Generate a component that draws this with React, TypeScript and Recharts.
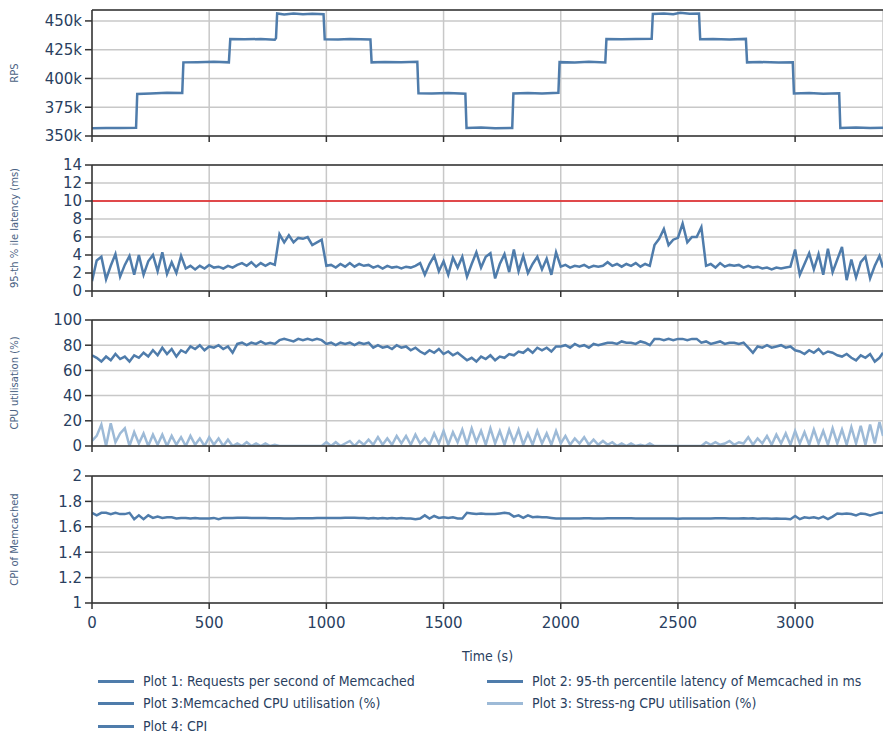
import React from "react";
import { LineChart, Line, XAxis, YAxis, CartesianGrid, ReferenceLine } from "recharts";

// samples are 20 s apart, last one clamped to the end of the run
const STEP = 20;
const END_TIME = 3375;
const timeTicks = [0, 500, 1000, 1500, 2000, 2500, 3000];

// Plot 1: RPS (step changes every ~200 s)
const rpsTime = [
  0, 60, 120, 188, 193, 250, 320, 385, 390, 450, 520, 584, 590, 650, 720, 780, 785, 790, 820, 860, 900, 940, 988,
  993, 1050, 1100, 1188, 1193, 1250, 1320, 1388, 1393, 1450, 1520, 1593, 1598, 1660, 1720, 1793, 1798, 1860, 1920,
  1990, 1995, 2060, 2120, 2190, 2195, 2260, 2320, 2388, 2393, 2440, 2480, 2510, 2550, 2590, 2595, 2650, 2720, 2790,
  2795, 2850, 2930, 2990, 2995, 3060, 3120, 3188, 3193, 3260, 3320, 3375,
];
const rpsValue = [
  356.8, 357, 356.9, 357.2, 386.5, 387, 387.6, 387.3, 414, 414.2, 414.5, 414, 434.2, 434, 434.3, 433.6, 435, 456.5,
  455.5, 456.4, 455.8, 456.3, 455.9, 434, 433.8, 434.2, 433.9, 414, 414.4, 414, 414.5, 387.2, 387, 387.3, 386.8, 357,
  357.3, 356.8, 357, 387, 387.4, 386.9, 387.5, 414.2, 413.8, 414.6, 413.9, 434.3, 434, 434.2, 434.5, 456, 456.5,
  455.8, 457, 456.2, 456.5, 434, 434.2, 433.8, 434.4, 414, 414.3, 413.8, 414.1, 387, 387.3, 386.8, 387.1, 357, 357.3,
  356.9, 357.2,
];

// Plot 2: 95th percentile latency (ms)
const latencyMs = [
  1.1, 3.4, 3.8, 1.3, 2.8, 4.1, 1.6, 2.9, 3.9, 1.8,
  4.0, 1.8, 3.3, 4.0, 2.2, 4.3, 1.9, 3.2, 2.0, 3.9,
  2.5, 2.8, 2.4, 2.8, 2.5, 2.9, 2.6, 2.7, 2.5, 2.8,
  2.6, 2.9, 3.1, 2.8, 3.2, 2.7, 3.1, 2.8, 3.1, 2.9,
  6.3, 5.4, 6.2, 5.4, 5.9, 5.8, 6.0, 5.1, 5.4, 5.7,
  2.8, 2.9, 2.6, 3.0, 2.7, 3.1, 2.7, 3.0, 2.8, 2.9,
  2.6, 2.8, 2.5, 2.8, 2.6, 2.7, 2.5, 2.7, 2.6, 2.8,
  3.1, 1.8, 3.0, 3.9, 2.2, 3.3, 1.8, 3.7, 2.6, 3.8,
  1.6, 3.0, 4.3, 2.6, 3.8, 4.2, 1.4, 3.0, 4.1, 2.1,
  4.6, 2.2, 3.9, 2.0, 3.0, 3.8, 2.4, 3.6, 1.8, 4.3,
  2.7, 2.9, 2.6, 2.8, 2.7, 2.9, 2.6, 2.8, 2.7, 2.8,
  3.2, 2.8, 3.0, 2.7, 3.0, 2.8, 3.1, 2.7, 3.0, 2.8,
  5.1, 5.8, 6.9, 5.1, 5.7, 5.9, 7.5, 5.4, 6.0, 6.0,
  7.1, 2.8, 3.0, 2.6, 3.1, 2.7, 2.9, 2.8, 2.9, 2.6,
  2.8, 2.6, 2.7, 2.5, 2.6, 2.4, 2.6, 2.5, 2.6, 2.7,
  4.6, 1.8, 3.0, 4.2, 2.4, 4.1, 1.8, 4.7, 2.1, 3.5,
  4.9, 1.2, 3.5, 1.5, 3.2, 3.8, 1.4, 2.8, 3.9, 2.6,
];
const latencyLimit = 10;

// Plot 3: CPU utilisation (%)
const memcachedCpu = [
  72, 70, 67, 71, 68, 73, 69, 71, 67, 72,
  70, 74, 71, 76, 72, 78, 73, 77, 71, 76,
  74, 79, 77, 80, 76, 79, 78, 80, 77, 79,
  74, 81, 82, 80, 82, 81, 83, 81, 82, 81,
  84, 85, 84, 83, 85, 84, 85, 84, 85, 84,
  81, 82, 80, 82, 81, 82, 80, 82, 81, 82,
  78, 80, 78, 79, 77, 80, 78, 79, 76, 78,
  75, 73, 76, 74, 77, 73, 75, 72, 74, 71,
  68, 70, 67, 71, 69, 72, 68, 71, 70, 73,
  72, 75, 74, 77, 74, 78, 76, 78, 75, 79,
  79, 80, 78, 81, 79, 80, 78, 81, 80, 81,
  82, 82, 81, 83, 82, 82, 81, 83, 82, 80,
  85, 85, 84, 85, 84, 85, 85, 84, 85, 85,
  82, 83, 81, 82, 83, 81, 82, 82, 81, 82,
  78, 74, 79, 78, 80, 78, 79, 80, 78, 79,
  76, 75, 73, 76, 74, 77, 73, 75, 74, 72,
  71, 73, 70, 68, 72, 70, 73, 67, 70, 74,
];
const stressCpu = [
  4, 8, 17, 0, 18, 3, 10, 14, 0, 11,
  2, 10, 0, 9, 1, 9, 0, 8, 1, 7,
  0, 8, 1, 6, 0, 7, 1, 6, 0, 5,
  0, 2, 0, 3, 0, 2, 0, 2, 0, 1,
  0, 0, 0, 0, 0, 0, 0, 0, 0, 0,
  3, 0, 3, 0, 2, 4, 0, 4, 1, 5,
  1, 7, 1, 6, 1, 8, 2, 8, 1, 9,
  2, 6, 1, 10, 2, 12, 1, 11, 3, 13,
  1, 14, 3, 12, 1, 14, 2, 12, 1, 13,
  3, 13, 1, 10, 1, 12, 2, 10, 1, 12,
  2, 8, 1, 6, 2, 7, 1, 5, 1, 4,
  1, 3, 0, 2, 0, 2, 0, 1, 0, 2,
  0, 0, 0, 0, 0, 0, 0, 0, 0, 0,
  0, 3, 1, 3, 1, 2, 4, 1, 3, 2,
  7, 1, 6, 2, 8, 1, 9, 2, 10, 1,
  12, 2, 11, 1, 13, 2, 12, 1, 14, 2,
  13, 1, 15, 2, 16, 1, 17, 2, 19, 8,
];

// Plot 4: CPI of Memcached
const cpi = [
  1.71, 1.69, 1.71, 1.71, 1.7, 1.71, 1.7, 1.7, 1.71, 1.66,
  1.69, 1.66, 1.69, 1.67, 1.68, 1.67, 1.675, 1.675, 1.665, 1.67,
  1.67, 1.665, 1.67, 1.665, 1.665, 1.665, 1.67, 1.66, 1.67, 1.67,
  1.67, 1.672, 1.672, 1.671, 1.67, 1.67, 1.67, 1.669, 1.668, 1.668,
  1.667, 1.666, 1.666, 1.666, 1.667, 1.667, 1.668, 1.668, 1.669, 1.669,
  1.67, 1.67, 1.67, 1.67, 1.671, 1.671, 1.671, 1.67, 1.67, 1.665,
  1.67, 1.665, 1.67, 1.665, 1.67, 1.665, 1.67, 1.665, 1.665, 1.66,
  1.665, 1.69, 1.665, 1.685, 1.67, 1.675, 1.67, 1.675, 1.665, 1.665,
  1.71, 1.705, 1.7, 1.705, 1.7, 1.7, 1.7, 1.705, 1.71, 1.705,
  1.68, 1.69, 1.67, 1.69, 1.675, 1.68, 1.675, 1.675, 1.67, 1.665,
  1.665, 1.665, 1.665, 1.665, 1.666, 1.667, 1.667, 1.666, 1.665, 1.666,
  1.667, 1.668, 1.668, 1.668, 1.667, 1.667, 1.666, 1.665, 1.665, 1.665,
  1.665, 1.666, 1.666, 1.665, 1.665, 1.664, 1.665, 1.666, 1.666, 1.666,
  1.666, 1.666, 1.666, 1.667, 1.667, 1.667, 1.666, 1.666, 1.665, 1.667,
  1.665, 1.667, 1.664, 1.665, 1.666, 1.663, 1.665, 1.664, 1.663, 1.66,
  1.685, 1.66, 1.675, 1.67, 1.675, 1.665, 1.68, 1.66, 1.68, 1.705,
  1.7, 1.705, 1.7, 1.69, 1.705, 1.7, 1.69, 1.7, 1.71, 1.71,
];

const sampleTimes = latencyMs.map((_, i) => Math.min(i * STEP, END_TIME));

const rpsData = rpsTime.map((t, i) => ({ t, v: rpsValue[i] * 1000 }));
const latencyData = sampleTimes.map((t, i) => ({ t, v: latencyMs[i] }));
const cpuData = sampleTimes.map((t, i) => ({ t, mem: memcachedCpu[i], stress: stressCpu[i] }));
const cpiData = sampleTimes.map((t, i) => ({ t, v: cpi[i] }));

const DARK = "#4f7cab";
const LIGHT = "#9dbad7";
const AXIS = "#333";
const TICK = { fill: "#2a3f5f", fontSize: 15, fontFamily: "DejaVu Sans" };

const axisTitle = (text: string) => ({
  content: (props: any) => {
    const vb = props.viewBox || {};
    const cy = (vb.y ?? 0) + (vb.height ?? 0) / 2;
    return (
      <text
        x={14}
        y={cy}
        transform={`rotate(-90 14 ${cy})`}
        textAnchor="middle"
        dominantBaseline="central"
        fontSize={10}
        fontFamily="DejaVu Sans"
        fill="#4a6283"
      >
        {text}
      </text>
    );
  },
});

interface PanelProps {
  top: number;
  plotHeight: number;
  data: any[];
  domain: [number, number];
  ticks: number[];
  fmt: (v: number) => string;
  title: string;
  last?: boolean;
  children: React.ReactNode;
}

function Panel({ top, plotHeight, data, domain, ticks, fmt, title, last, children }: PanelProps) {
  const xh = last ? 64 : 12;
  return (
    <div style={{ position: "absolute", left: 0, top: top - 10 }}>
      <LineChart width={883} height={10 + plotHeight + xh} data={data} margin={{ top: 10, right: 0, bottom: 0, left: 0 }}>
        <CartesianGrid stroke="#c8c8c8" strokeWidth={1.5} />
        <XAxis
          dataKey="t"
          type="number"
          domain={[0, END_TIME]}
          ticks={timeTicks}
          interval={0}
          allowDataOverflow
          height={xh}
          tickSize={6}
          tickMargin={8}
          stroke={AXIS}
          strokeWidth={1.5}
          tick={TICK}
          tickFormatter={last ? (v: number) => String(v) : () => ""}
          label={
            last
              ? {
                  value: "Time (s)",
                  position: "insideBottom",
                  offset: 6,
                  fill: "#2a3f5f",
                  fontSize: 14,
                  fontFamily: "DejaVu Sans Condensed",
                }
              : undefined
          }
        />
        <YAxis
          type="number"
          domain={domain}
          ticks={ticks}
          interval={0}
          allowDataOverflow
          width={92}
          tickSize={7}
          tickMargin={3}
          stroke={AXIS}
          strokeWidth={1.5}
          tick={TICK}
          tickFormatter={fmt}
          label={axisTitle(title)}
        />
        <ReferenceLine y={domain[1]} stroke={AXIS} strokeWidth={1.5} />
        {children}
      </LineChart>
    </div>
  );
}

const legendItems = [
  { label: "Plot 1: Requests per second of Memcached", color: DARK, x: 98, y: 681 },
  { label: "Plot 2: 95-th percentile latency of Memcached in ms", color: DARK, x: 487, y: 681 },
  { label: "Plot 3:Memcached CPU utilisation (%)", color: DARK, x: 98, y: 703 },
  { label: "Plot 3: Stress-ng CPU utilisation (%)", color: LIGHT, x: 487, y: 703 },
  { label: "Plot 4: CPI", color: DARK, x: 98, y: 726 },
];

export default function App() {
  return (
    <div style={{ position: "absolute", left: 0, top: 0, width: 883, height: 735, background: "#fff", overflow: "hidden" }}>
      <Panel
        top={10}
        plotHeight={126}
        data={rpsData}
        domain={[350000, 459500]}
        ticks={[350000, 375000, 400000, 425000, 450000]}
        fmt={(v) => `${Math.round(v / 1000)}k`}
        title="RPS"
      >
        <Line type="linear" dataKey="v" stroke={DARK} strokeWidth={2.5} dot={false} isAnimationActive={false} />
      </Panel>
      <Panel
        top={165}
        plotHeight={126}
        data={latencyData}
        domain={[0, 14]}
        ticks={[0, 2, 4, 6, 8, 10, 12, 14]}
        fmt={(v) => String(v)}
        title="95-th % ile latency (ms)"
      >
        <ReferenceLine y={latencyLimit} stroke="#e31a1c" strokeWidth={1.5} />
        <Line type="linear" dataKey="v" stroke={DARK} strokeWidth={2.5} dot={false} isAnimationActive={false} />
      </Panel>
      <Panel
        top={320}
        plotHeight={126}
        data={cpuData}
        domain={[0, 100]}
        ticks={[0, 20, 40, 60, 80, 100]}
        fmt={(v) => String(v)}
        title="CPU utilisation (%)"
      >
        <Line type="linear" dataKey="mem" stroke={DARK} strokeWidth={2.5} dot={false} isAnimationActive={false} />
        <Line type="linear" dataKey="stress" stroke={LIGHT} strokeWidth={2.5} dot={false} isAnimationActive={false} />
      </Panel>
      <Panel
        top={476}
        plotHeight={127}
        data={cpiData}
        domain={[1, 2]}
        ticks={[1, 1.2, 1.4, 1.6, 1.8, 2]}
        fmt={(v) => String(Math.round(v * 10) / 10)}
        title="CPI of Memcached"
        last
      >
        <Line type="linear" dataKey="v" stroke={DARK} strokeWidth={2.5} dot={false} isAnimationActive={false} />
      </Panel>
      {legendItems.map((it) => (
        <div
          key={it.label}
          style={{
            position: "absolute",
            left: it.x,
            top: it.y - 9,
            height: 18,
            display: "flex",
            alignItems: "center",
            whiteSpace: "nowrap",
            fontFamily: "DejaVu Sans Condensed",
            fontSize: 14,
            color: "#2a3f5f",
          }}
        >
          <span style={{ display: "inline-block", width: 36, height: 3, background: it.color, marginRight: 9 }} />
          {it.label}
        </div>
      ))}
    </div>
  );
}
